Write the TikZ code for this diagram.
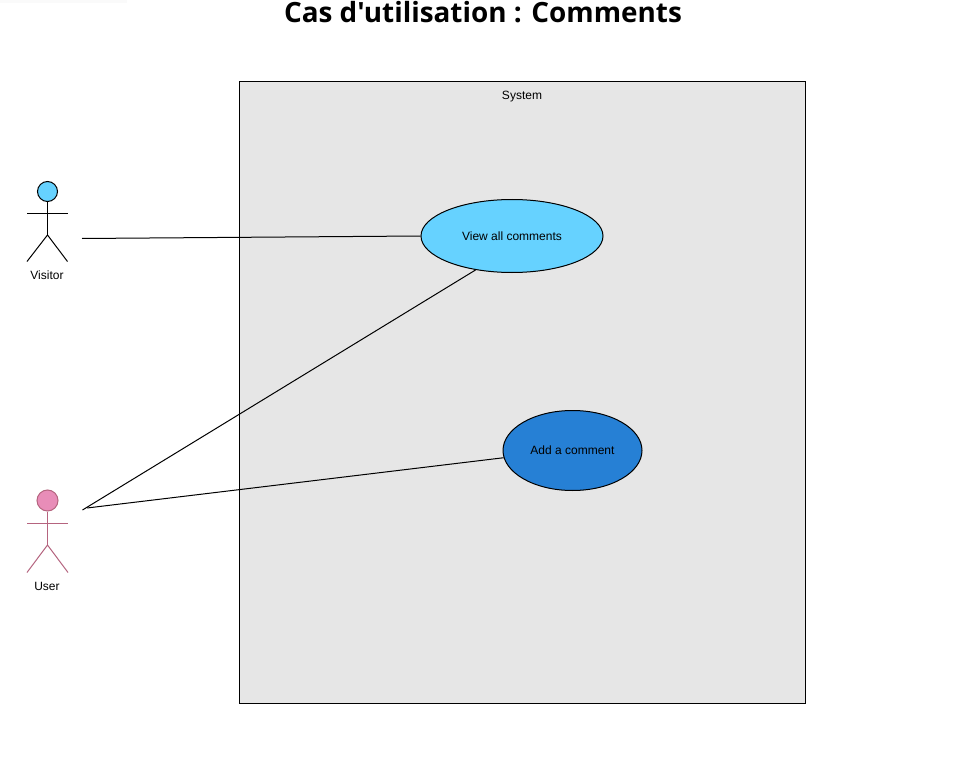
\documentclass[tikz,border=0pt]{standalone}
\usepackage{fontspec}
\setmainfont{Liberation Sans}
\newfontfamily\titlefont{Open Sans}
\usetikzlibrary{shapes.geometric}
\definecolor{sysgray}{HTML}{E6E6E6}
\definecolor{lightblue}{HTML}{66D2FF}
\definecolor{midblue}{HTML}{2680D5}
\definecolor{pinkfill}{HTML}{E88DB8}
\definecolor{pinkline}{HTML}{B5647F}
\tikzset{
  every node/.style={font=\fontsize{9}{11}\selectfont},
  lnk/.style={draw=black,line width=0.75pt},
  sysbox/.style={draw=black,fill=sysgray,line width=0.75pt,minimum width=566*0.75pt,minimum height=622*0.75pt,inner sep=0pt},
  usecase/.style={ellipse,draw=black,line width=0.75pt,inner sep=0pt},
  head/.style={circle,draw=#1,line width=0.75pt,inner sep=0pt},
  limb/.style={draw=#1,line width=0.75pt},
  lbl/.style={inner sep=0pt},
}
\begin{document}
\begin{tikzpicture}[x=0.75pt,y=-0.75pt]
\useasboundingbox (0,0) rectangle (958,767);
\fill[white] (0,0) rectangle (958,767);
\fill[black!2] (0,0) rectangle (127,3);
\node[lbl,font=\titlefont\fontsize{20.9}{24}\selectfont\bfseries] (title) at (483,12) {Cas d'utilisation : Comments};
\node[sysbox] (sys) at (522.5,392.5) {};
\node[lbl] (syslabel) at (522,97) {System};
\node[usecase,fill=lightblue,minimum width=182*0.75pt,minimum height=73*0.75pt] (view) at (512,236) {View all comments};
\node[usecase,fill=midblue,minimum width=139*0.75pt,minimum height=80*0.75pt] (add) at (572.5,450.5) {\raisebox{-0.4pt}{Add a comment}};
% Visitor
\node[head=black,fill=lightblue,minimum size=20*0.75pt] (vhead) at (47.5,191.5) {};
\coordinate (vhip) at (47.5,235);
\coordinate (varmL) at (27,213);
\coordinate (varmR) at (67.5,213);
\coordinate (vfootL) at (27,261.5);
\coordinate (vfootR) at (67.5,261.5);
\draw[limb=black] (vhead.south) -- (vhip);
\draw[limb=black] (varmL) -- (varmR);
\draw[limb=black] (vfootL) -- (vhip) -- (vfootR);
\node[lbl] (vlabel) at (47,275) {Visitor};
% User
\node[head=pinkline,fill=pinkfill,minimum size=21*0.75pt] (uhead) at (47.5,500.5) {};
\coordinate (uhip) at (47.5,545);
\coordinate (uarmL) at (27,523);
\coordinate (uarmR) at (68,523);
\coordinate (ufootL) at (27,572.5);
\coordinate (ufootR) at (68,572.5);
\draw[limb=pinkline] (uhead.south) -- (uhip);
\draw[limb=pinkline] (uarmL) -- (uarmR);
\draw[limb=pinkline] (ufootL) -- (uhip) -- (ufootR);
\node[lbl] (ulabel) at (47,586) {User};
% Connectors
\coordinate (vanchor) at (82,238.5);
\coordinate (uanchorA) at (82.5,510);
\coordinate (uanchorB) at (87,508);
\draw[lnk] (vanchor) -- (view.west);
\draw[lnk] (uanchorA) -- (view.223.4);
\draw[lnk] (uanchorB) -- (add.186.2);
\end{tikzpicture}
\end{document}
